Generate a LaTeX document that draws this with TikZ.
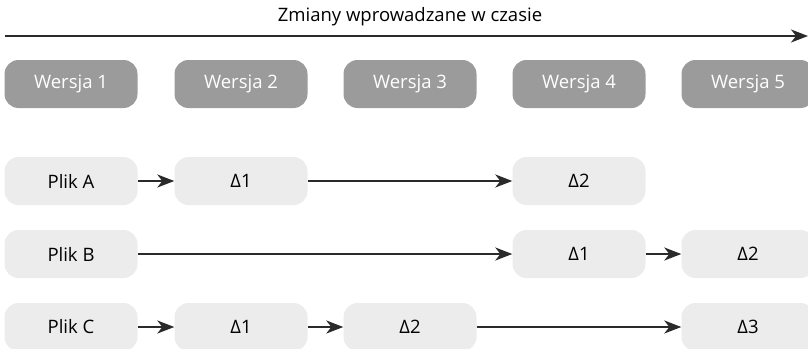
\documentclass[tikz,border=0pt]{standalone}
\usepackage{fontspec}
\setmainfont{Open Sans}
\usetikzlibrary{arrows.meta}
\definecolor{verbox}{HTML}{9B9B9B}
\definecolor{filebox}{HTML}{ECECEC}
\definecolor{linegray}{HTML}{2A2A2A}
\begin{document}
\begin{tikzpicture}[x=1pt,y=-1pt,font=\fontsize{18.5}{22}\selectfont,
  wersja/.style={fill=verbox, text=white, rounded corners=14pt, minimum width=133pt, minimum height=48pt, inner sep=0pt},
  plik/.style={fill=filebox, text=black, rounded corners=14pt, minimum width=133pt, minimum height=48pt, inner sep=0pt},
  strz/.style={draw=linegray, line width=1.8pt, -{Stealth[length=17pt,width=13pt,inset=5pt]}}]
\useasboundingbox (0,0) rectangle (808,348);

% os czasu
\node (tytul) at (410,17) {Zmiany wprowadzane w czasie};
\coordinate (t0) at (5,36);
\coordinate (t1) at (808,36);
\path[strz] (t0) -- (t1);

% wersje
\node[wersja] (v1) at (71,84) {Wersja 1};
\node[wersja] (v2) at (241,84) {Wersja 2};
\node[wersja] (v3) at (410,84) {Wersja 3};
\node[wersja] (v4) at (579,84) {Wersja 4};
\node[wersja] (v5) at (748,84) {Wersja 5};

% plik A
\node[plik] (a0) at (71,181) {Plik A};
\node[plik] (a1) at (241,181) {Δ1};
\node[plik] (a2) at (579,181) {Δ2};
\path[strz] (a0) -- (a1);
\path[strz] (a1) -- (a2);

% plik B
\node[plik] (b0) at (71,254) {Plik B};
\node[plik] (b1) at (579,254) {Δ1};
\node[plik] (b2) at (748,254) {Δ2};
\path[strz] (b0) -- (b1);
\path[strz] (b1) -- (b2);

% plik C
\node[plik] (c0) at (71,327) {Plik C};
\node[plik] (c1) at (241,327) {Δ1};
\node[plik] (c2) at (410,327) {Δ2};
\node[plik] (c3) at (748,327) {Δ3};
\path[strz] (c0) -- (c1);
\path[strz] (c1) -- (c2);
\path[strz] (c2) -- (c3);
\end{tikzpicture}
\end{document}
